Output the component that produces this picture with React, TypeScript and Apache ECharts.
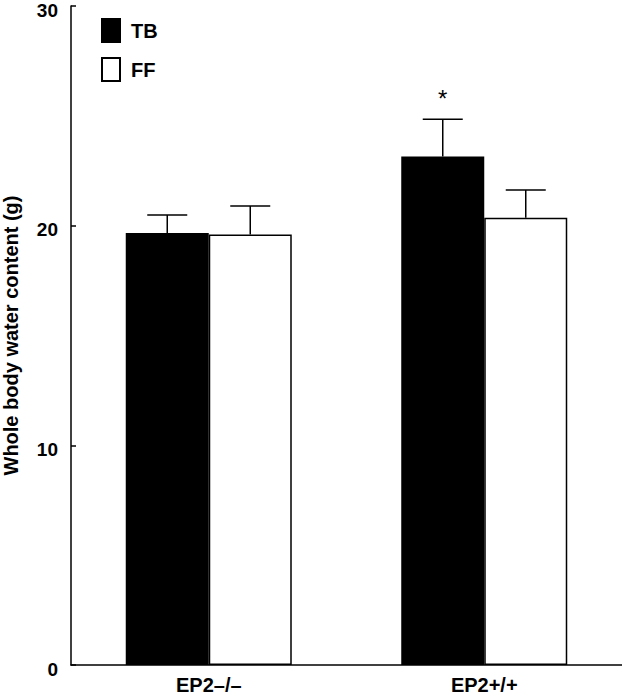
import React, { useEffect, useRef } from "react";
import * as echarts from "echarts";

const categories = ["EP2–/–", "EP2+/+"];
const tbValues = [19.67, 23.15];
const tbErrors = [0.82, 1.7];
const ffValues = [19.6, 20.36];
const ffErrors = [1.3, 1.26];
const significance = ["", "*"];
const yTicks = { min: 0, max: 30, interval: 10 };

const FONT = "'Liberation Sans', Arial, sans-serif";
const BAR_W = 83;

function errorSeries(name: string, values: number[], errs: number[], side: number, marks: string[]) {
  return {
    type: "custom",
    name: name + " err",
    z: 5,
    silent: true,
    data: values.map((v, i) => [i, v, v + errs[i]]),
    renderItem: (params: any, api: any) => {
      const i = api.value(0);
      const base = api.coord([i, api.value(1)]);
      const top = api.coord([i, api.value(2)]);
      const x = base[0] + side * (BAR_W / 2);
      const children: any[] = [
        { type: "line", shape: { x1: x, y1: base[1], x2: x, y2: top[1] }, style: { stroke: "#000", lineWidth: 1.5 } },
        { type: "line", shape: { x1: x - 20, y1: top[1], x2: x + 20, y2: top[1] }, style: { stroke: "#000", lineWidth: 1.5 } },
      ];
      const m = marks[i];
      if (m) {
        children.push({
          type: "text",
          x: x,
          y: top[1] - 21,
          style: { text: m, fontSize: 24, fontFamily: FONT, fill: "#000", align: "center", verticalAlign: "middle" },
        });
      }
      return { type: "group", children };
    },
  };
}

export default function App() {
  const ref = useRef<HTMLDivElement>(null);
  useEffect(() => {
    const chart = echarts.init(ref.current!, undefined, { renderer: "svg" });
    chart.setOption({
      animation: false,
      backgroundColor: "#fff",
      grid: { left: 71, right: 0, top: 6, bottom: 35, containLabel: false, outerBoundsMode: "none" },
      legend: {
        data: ["TB", "FF"],
        orient: "vertical",
        left: 96,
        top: 13,
        itemWidth: 18,
        itemHeight: 23,
        itemGap: 14,
        icon: "rect",
        textStyle: { fontFamily: FONT, fontWeight: "bold", fontSize: 20, color: "#000", padding: [0, 0, 0, 6] },
      },
      xAxis: {
        type: "category",
        data: categories,
        axisTick: { show: false },
        axisLine: { lineStyle: { color: "#000", width: 1.5 } },
        axisLabel: { fontFamily: FONT, fontWeight: "bold", fontSize: 20, color: "#000", margin: 10 },
      },
      yAxis: {
        type: "value",
        min: yTicks.min,
        max: yTicks.max,
        interval: yTicks.interval,
        name: "Whole body water content (g)",
        nameLocation: "middle",
        nameGap: 50,
        nameTextStyle: { fontFamily: FONT, fontWeight: "bold", fontSize: 20, color: "#000" },
        splitLine: { show: false },
        axisLine: { show: true, lineStyle: { color: "#000", width: 1.5 } },
        axisTick: { show: true, inside: true, length: 5, lineStyle: { color: "#000", width: 1.5 } },
        axisLabel: {
          fontFamily: FONT,
          fontWeight: "bold",
          fontSize: 19,
          color: "#000",
          margin: 13,
          verticalAlign: "top",
          lineHeight: 8,
        },
      },
      series: [
        {
          type: "bar",
          name: "TB",
          data: tbValues,
          barWidth: BAR_W,
          barGap: "0%",
          itemStyle: { color: "#000", borderColor: "#000", borderWidth: 1.5 },
        },
        {
          type: "bar",
          name: "FF",
          data: ffValues,
          barWidth: BAR_W,
          barGap: "0%",
          itemStyle: { color: "#fff", borderColor: "#000", borderWidth: 1.5 },
        },
        errorSeries("TB", tbValues, tbErrors, -1, significance),
        errorSeries("FF", ffValues, ffErrors, 1, ["", ""]),
      ],
    });
    return () => chart.dispose();
  }, []);
  return <div ref={ref} style={{ position: "absolute", left: 0, top: 0, width: 622, height: 700 }} />;
}
